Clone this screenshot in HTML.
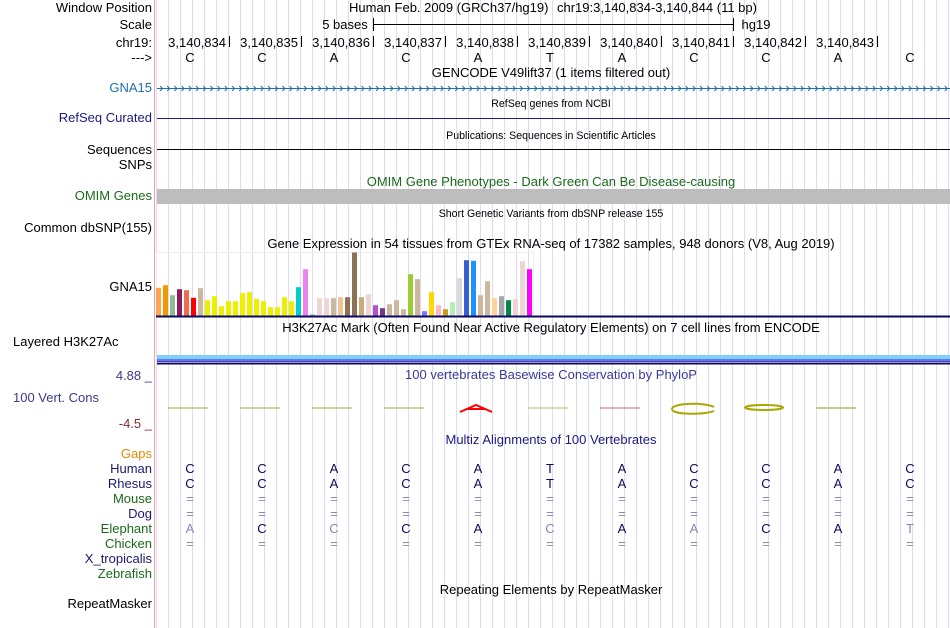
<!DOCTYPE html>
<html><head><meta charset="utf-8"><style>
html,body{margin:0;padding:0;background:#fff;}
svg{display:block;font-family:"Liberation Sans",sans-serif;}
</style></head><body>
<svg id="gb" width="950" height="628" xmlns="http://www.w3.org/2000/svg">
<rect width="950" height="628" fill="#fff"/>
<g id="grid"></g>
<line x1="154.5" y1="0" x2="154.5" y2="628" stroke="#f4a0a0" stroke-width="1"/>
<g id="labels" font-size="13" text-anchor="end">
<text x="152" y="12" fill="#000">Window Position</text>
<text x="152" y="29" fill="#000">Scale</text>
<text x="152" y="47" fill="#000">chr19:</text>
<text x="152" y="62" fill="#000">---&gt;</text>
<text x="152" y="92" fill="#1f6fb0">GNA15</text>
<text x="152" y="122" fill="#1a1a80">RefSeq Curated</text>
<text x="152" y="154" fill="#000">Sequences</text>
<text x="152" y="169" fill="#000">SNPs</text>
<text x="152" y="200" fill="#1a6a1a">OMIM Genes</text>
<text x="152" y="232" fill="#000">Common dbSNP(155)</text>
<text x="152" y="291" fill="#000">GNA15</text>
<text x="13" y="346" text-anchor="start" fill="#000">Layered H3K27Ac</text>
<text x="152" y="380" fill="#3a3a8a">4.88 _</text>
<text x="13" y="402" text-anchor="start" fill="#3a3a8a">100 Vert. Cons</text>
<text x="152" y="428" fill="#8a2a2a">-4.5 _</text>
<text x="152" y="458" fill="#e88a00">Gaps</text>
<text x="152" y="473" fill="#1a1a70">Human</text>
<text x="152" y="488" fill="#1a1a70">Rhesus</text>
<text x="152" y="503" fill="#1a6a1a">Mouse</text>
<text x="152" y="518" fill="#1a1a70">Dog</text>
<text x="152" y="533" fill="#1a6a1a">Elephant</text>
<text x="152" y="548" fill="#1a6a1a">Chicken</text>
<text x="152" y="563" fill="#1a1a70">X_tropicalis</text>
<text x="152" y="578" fill="#1a6a1a">Zebrafish</text>
<text x="152" y="608" fill="#000">RepeatMasker</text>
</g>
<g id="titles" text-anchor="middle">
<text x="349" y="12" font-size="13" text-anchor="start">Human Feb. 2009 (GRCh37/hg19)</text>
<text x="557" y="12" font-size="13" text-anchor="start">chr19:3,140,834-3,140,844 (11 bp)</text>
<text x="345" y="29" font-size="13">5 bases</text>
<text x="756" y="29" font-size="13">hg19</text>
<text x="551" y="77" font-size="13">GENCODE V49lift37 (1 items filtered out)</text>
<text x="551" y="107" font-size="10.6">RefSeq genes from NCBI</text>
<text x="551" y="139" font-size="10.6">Publications: Sequences in Scientific Articles</text>
<text x="551" y="186" font-size="13" fill="#1a6a1a">OMIM Gene Phenotypes - Dark Green Can Be Disease-causing</text>
<text x="551" y="217" font-size="10.6">Short Genetic Variants from dbSNP release 155</text>
<text x="551" y="248" font-size="13">Gene Expression in 54 tissues from GTEx RNA-seq of 17382 samples, 948 donors (V8, Aug 2019)</text>
<text x="551" y="332" font-size="13">H3K27Ac Mark (Often Found Near Active Regulatory Elements) on 7 cell lines from ENCODE</text>
<text x="551" y="379" font-size="13" fill="#3a3a9a">100 vertebrates Basewise Conservation by PhyloP</text>
<text x="551" y="444" font-size="13" fill="#1a1a80">Multiz Alignments of 100 Vertebrates</text>
<text x="551" y="594" font-size="13">Repeating Elements by RepeatMasker</text>
</g>
<line x1="373" y1="24.5" x2="733" y2="24.5" stroke="#000"/>
<line x1="373.5" y1="18" x2="373.5" y2="31" stroke="#000"/>
<line x1="733.5" y1="18" x2="733.5" y2="31" stroke="#000"/>
<g id="ruler"></g>
<g id="gencode"></g>
<line x1="157" y1="118.5" x2="950" y2="118.5" stroke="#1a1a80"/>
<line x1="157" y1="149.5" x2="950" y2="149.5" stroke="#000"/>
<rect x="157" y="189" width="793" height="15" fill="#bdbdbd"/>
<g id="gtex"></g>
<rect x="157" y="355" width="793" height="4" fill="#7fd0ff"/>
<rect x="157" y="359" width="793" height="2" fill="#5a7aff"/>
<rect x="157" y="361" width="793" height="1.5" fill="#5a3aa0"/>
<rect x="157" y="363" width="793" height="1.5" fill="#0a0a50"/>
<g id="cons"></g>
<g id="multiz" font-size="13" text-anchor="middle"></g>
</svg>
<script>
var NS='http://www.w3.org/2000/svg';
var positions=['3,140,834','3,140,835','3,140,836','3,140,837','3,140,838','3,140,839','3,140,840','3,140,841','3,140,842','3,140,843'];
var bases=['C','C','A','C','A','T','A','C','C','A','C'];
var elephant=['A','C','C','C','A','C','A','A','C','A','T'];
var elephantMatch=[0,1,0,1,1,0,1,0,1,1,0];
var consScores=[0.3,0.3,0.2,0.2,1.5,0.1,0.2,1.0,0.8,0.6,0];
var gtexValues=[27.7,30.3,20.3,26.3,25.3,17.7,27.3,15.3,19.3,9.3,14.3,14.3,22.3,23.3,16.7,14.3,8.3,8.3,18.3,14.3,28.3,46.3,1.3,17.3,17.3,17.3,18.3,18.3,63,18.3,21.3,10.3,7.3,11.3,15.3,6.3,41.3,36.3,4.3,23.3,10.3,6.3,13.3,37.3,55.3,54.7,20.3,34.3,17.3,19.3,15.3,16.3,54.3,46.3];
var gtexColors=['#FFA54F','#EE9A00','#8FBC8F','#8B1C62','#EE6A50','#FF0000','#CDB79E','#EEEE00','#EEEE00','#EEEE00','#EEEE00','#EEEE00','#EEEE00','#EEEE00','#EEEE00','#EEEE00','#EEEE00','#EEEE00','#EEEE00','#EEEE00','#00CDCD','#EE82EE','#9AC0CD','#EED5D2','#EED5D2','#CDB79E','#EEC591','#8B7355','#8B7355','#CDAA7D','#EED5D2','#B452CD','#7A378B','#CDB79E','#CDB79E','#CDB79E','#9ACD32','#CDB79E','#7777FF','#FFD700','#FFB6C1','#CD9B1D','#B4EEB4','#D9D9D9','#3A5FCD','#1E90FF','#CDB79E','#CDB79E','#FFD39B','#A6A6A6','#008B45','#EED5D2','#EED5D2','#FF00FF'];
var gtexMax=63;

function mk(tag,attrs,parent){var e=document.createElementNS(NS,tag);for(var k in attrs)e.setAttribute(k,attrs[k]);parent.appendChild(e);return e;}
function baseX(i){return 190+72*i;}
function tickX(i){return 229+72*i;}
var gtexBase=315.5;
function gx(i){return 156+7*i;}
function gy(v){return gtexBase-(v/gtexMax)*63;}

var grid=document.getElementById('grid');
for(var x=156;x<950;x+=12){
 var l=mk('line',{x1:x+0.5,y1:0,x2:x+0.5,y2:628,stroke:'#dcdcf4','stroke-width':1},grid);
 
 
}
var ruler=document.getElementById('ruler');
positions.forEach(function(p,i){
 var t=mk('text',{x:tickX(i)-3,y:47,'font-size':13,'text-anchor':'end'},ruler);t.textContent=p;
 
 
 var tk=mk('line',{x1:tickX(i)+0.5,y1:36,x2:tickX(i)+0.5,y2:47,stroke:'#000'},ruler);
 
 
});
bases.forEach(function(b,i){
 var t=mk('text',{x:baseX(i),y:62,'font-size':13,'text-anchor':'middle'},ruler);t.textContent=b;
 
 
});
var gen=document.getElementById('gencode');
var gl=mk('line',{x1:157,y1:88.5,x2:950,y2:88.5,stroke:'#1f6fb0'},gen);


for(var ax=160;ax<948;ax+=7.2){
 var a=mk('polyline',{points:(ax)+',86 '+(ax+2.5)+',88.5 '+(ax)+',91',fill:'none',stroke:'#1f6fb0','stroke-width':1},gen);
 
 
}
var gt=document.getElementById('gtex');
var fr=mk('rect',{x:156.5,y:252.5,width:377,height:63,fill:'none',stroke:'#eeeeee'},gt);


gtexValues.forEach(function(v,i){
 var r=mk('rect',{x:gx(i),y:gy(v),width:5,height:gtexBase-gy(v),fill:gtexColors[i]},gt);
 
 
});
var bl=mk('rect',{x:156,y:315.5,width:794,height:2,fill:'#0a0a60'},gt);



var cons=document.getElementById('cons');
var consY=408;
consScores.forEach(function(s,i){
 var cx=baseX(i)-2;
 if(i===4){
  var p=mk('path',{d:'M'+(cx-16)+','+(consY+4)+' L'+(cx)+','+(consY-3)+' L'+(cx+16)+','+(consY+4)+' M'+(cx-9)+','+(consY+1)+' L'+(cx+9)+','+(consY+1),fill:'none',stroke:'#ff0000','stroke-width':2},cons);
  
  
 } else if(i===7){
  var e=mk('path',{d:'M'+(cx+22)+','+(consY-1)+' C'+(cx+12)+','+(consY-6)+' '+(cx-20)+','+(consY-5)+' '+(cx-20)+','+(consY+1)+' C'+(cx-20)+','+(consY+7)+' '+(cx+12)+','+(consY+7)+' '+(cx+22)+','+(consY+3),fill:'none',stroke:'#a8a800','stroke-width':2},cons);
  
  
 } else if(i===8){
  var e2=mk('ellipse',{cx:cx,cy:consY-0.5,rx:19,ry:2.5,fill:'none',stroke:'#a8a800','stroke-width':2},cons);
  
  
 } else if(s>0){
  var ln=mk('line',{x1:cx-20,y1:consY,x2:cx+20,y2:consY,stroke:(i===6?'#d88080':'#b8b860'),'stroke-width':1+s},cons);
  
  
 }
});

var mz=document.getElementById('multiz');
function row(arr,y,name,colorFn){
 arr.forEach(function(b,i){
  var t=mk('text',{x:baseX(i),y:y,fill:colorFn(i)},mz);t.textContent=b;
  
  
 });
}
var eq=bases.map(function(){return '=';});
row(bases,473,'human',function(){return '#0a0a60';});
row(bases,488,'rhesus',function(){return '#0a0a60';});
row(eq,503,'mouse',function(){return '#8888bb';});
row(eq,518,'dog',function(){return '#8888bb';});
row(elephant,533,'elephant',function(i){return elephantMatch[i]?'#0a0a60':'#8888bb';});
row(eq,548,'chicken',function(){return '#8888bb';});
</script>
</body></html>
